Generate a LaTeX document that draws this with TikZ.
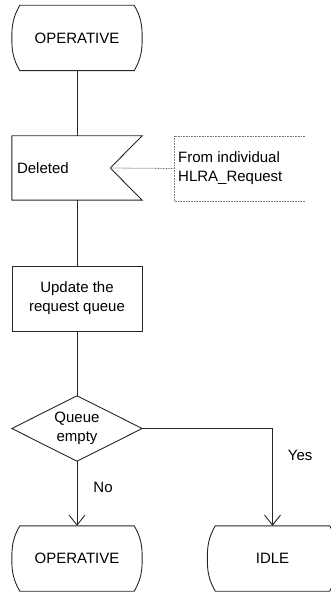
\documentclass[tikz,border=0pt]{standalone}
\usepackage{fontspec}
\setmainfont{Liberation Sans}
\usetikzlibrary{arrows.meta}
% outline of a state symbol round a named node
\newcommand{\stateshape}[1]{%
  \draw[flow] ([xshift=8pt]#1.north west) -- ([xshift=-8pt]#1.north east)
    to[out=300,in=90] (#1.east) to[out=270,in=60] ([xshift=-8pt]#1.south east)
    -- ([xshift=8pt]#1.south west) to[out=120,in=270] (#1.west)
    to[out=90,in=240] cycle;}

\begin{document}
\begin{tikzpicture}[x=1pt,y=1pt,
  flow/.style={line width=0.9pt, draw=black!85},
  frame/.style={minimum width=130pt, minimum height=65pt, inner sep=0pt,
    font=\fontsize{15}{19}\selectfont, align=center},
  note/.style={dash pattern=on 0.8pt off 0.8pt, draw=black!55, line width=0.8pt},
  lbl/.style={font=\fontsize{15}{19}\selectfont, inner sep=0pt}]
\useasboundingbox (0,0) rectangle (331,-593);
\node[frame] (op1) at (77,-38) {OPERATIVE};
\stateshape{op1}
\node[frame, minimum height=64pt] (del) at (77,-168) {};
\coordinate (notch) at ([xshift=-32pt]del.east);
\draw[flow] (del.north west) -- (del.north east) -- (notch) -- (del.south east)
  -- (del.south west) -- cycle;
\node[lbl, anchor=west] (deltxt) at ([xshift=5pt]del.west) {Deleted};
\coordinate (cmtl) at (174,-168.5);
\draw[note] (305,-136) -- (174,-136) -- (174,-201) -- (305,-201);
\draw[note] (notch) -- (cmtl);
\node[lbl, anchor=west, align=left] (cmt) at ([xshift=4pt]cmtl) {From individual\\HLRA\_Request};
\node[frame, draw=black!85, line width=0.9pt] (upd) at (77,-298.5) {Update the\\request queue};
\node[frame] (q) at (77,-428.5) {Queue\\empty};
\draw[flow] (q.north) -- (q.east) -- (q.south) -- (q.west) -- cycle;
\node[frame] (op2) at (77,-558.5) {OPERATIVE};
\stateshape{op2}
\node[frame] (idle) at (272.5,-558.5) {IDLE};
\stateshape{idle}
% connectors
\draw[flow] (op1.south) -- (del.north);
\draw[flow] (del.south) -- (upd.north);
\draw[flow] (upd.south) -- (q.north);
\draw[flow, -{Straight Barb[length=10pt,width=16pt]}] (q.south) --
  node[lbl, pos=0.4, anchor=west, xshift=16pt] {No} (op2.north);
\draw[flow, -{Straight Barb[length=10pt,width=16pt]}] (q.east) -|
  node[lbl, pos=0.64, anchor=west, xshift=15pt] {Yes} (idle.north);
\end{tikzpicture}
\end{document}
